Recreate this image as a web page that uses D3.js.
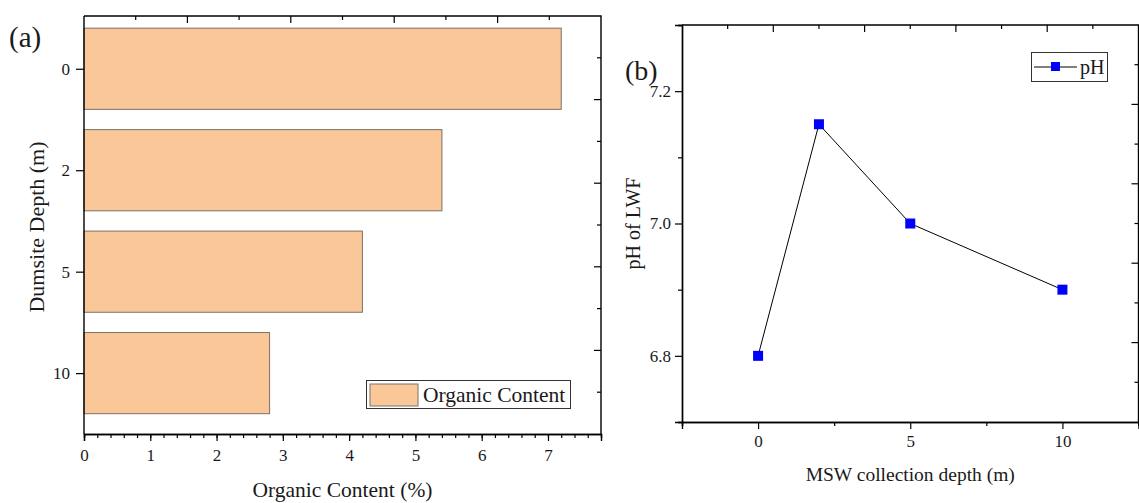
<!DOCTYPE html>
<html><head><meta charset="utf-8">
<script src="https://cdn.jsdelivr.net/npm/d3@7"></script>
<style>
body{margin:0;background:#fff}
svg{display:block}
svg text{font-family:"Liberation Serif","Times New Roman",serif !important;fill:#1a1a1a}
</style>
</head><body>
<svg id="c" width="1139" height="503"></svg>
<script>
// ---------- data ----------
const depthCategories = ["0", "2", "5", "10"];
const organicContent = [7.2, 5.4, 4.2, 2.8];
const organicTicks = [0, 1, 2, 3, 4, 5, 6, 7];
const phDepths = [0, 2, 5, 10];
const phValues = [6.8, 7.15, 7.0, 6.9];
const phYTicks = [6.8, 7.0, 7.2];
const phYMinorTicks = [6.7, 6.9, 7.1, 7.3];
const phXTicks = [0, 5, 10];
const phXMinorTicks = [-2.5, 2.5, 7.5, 12.5];
const mirrorTicks = [1, 2, 3, 4, 5, 6, 7, 8, 9]; // tenths of frame

const svg = d3.select("#c");
const barFill = "#FAC898";
const barStroke = "#7d7064";
const serif = '"Liberation Serif","Times New Roman",serif';

function styleAxis(g, w) {
  g.attr("font-family", null).attr("font-size", null);
  g.selectAll(".domain").attr("stroke", "#000").attr("stroke-width", w || 1.4);
  g.selectAll(".tick line").attr("stroke", "#000").attr("stroke-width", 1.2);
  g.selectAll("text").style("font-family", serif).style("font-size", "17px").attr("fill", "#1a1a1a");
}

// ================= Panel (a) =================
const A = {l: 84, r: 601, t: 16, b: 434};
const xA = d3.scaleLinear().domain([0, 7.8]).range([A.l, A.r]);
const yA = d3.scaleLinear().domain([-0.52, 3.6]).range([A.t, A.b]);
const mA_x = d3.scaleLinear().domain([0, 10]).range([A.l, A.r]);
const mA_y = d3.scaleLinear().domain([0, 10]).range([A.t, A.b]);

// bars
svg.append("g").selectAll("rect").data(organicContent).join("rect")
  .attr("x", xA(0))
  .attr("y", (d, i) => yA(i - 0.4))
  .attr("width", d => xA(d) - xA(0))
  .attr("height", (d, i) => yA(i + 0.4) - yA(i - 0.4))
  .attr("fill", barFill).attr("stroke", barStroke).attr("stroke-width", 1);

// bottom axis minor
const gAxm = svg.append("g").attr("transform", `translate(0,${A.b})`)
  .call(d3.axisBottom(xA).tickValues(d3.range(0, 39).map(k => k * 0.2)).tickSize(4).tickFormat(""));
styleAxis(gAxm);
const gAx = svg.append("g").attr("transform", `translate(0,${A.b})`)
  .call(d3.axisBottom(xA).tickValues(organicTicks).tickSize(7).tickPadding(8).tickFormat(d3.format("d")));
styleAxis(gAx);

// left axis
const gAy = svg.append("g").attr("transform", `translate(${A.l},0)`)
  .call(d3.axisLeft(yA).tickValues([0, 1, 2, 3]).tickFormat(i => depthCategories[i]).tickSize(8).tickPadding(6));
styleAxis(gAy);
gAy.select(".domain").attr("d", `M0,${A.t}V${A.b}`);

// top mirror axis (ticks inward)
svg.append("g").selectAll("line").data(mirrorTicks).join("line")
  .attr("x1", d => mA_x(d)).attr("x2", d => mA_x(d))
  .attr("y1", A.t).attr("y2", d => A.t + (d % 2 === 0 ? 7 : 4))
  .attr("stroke", "#000").attr("stroke-width", 1.2);
// right mirror axis
svg.append("g").selectAll("line").data(mirrorTicks).join("line")
  .attr("y1", d => mA_y(d)).attr("y2", d => mA_y(d))
  .attr("x1", A.r).attr("x2", d => A.r - (d % 2 === 0 ? 7 : 4))
  .attr("stroke", "#000").attr("stroke-width", 1.2);
svg.append("path").attr("d", `M${A.l},${A.t}H${A.r}V${A.b}`)
  .attr("fill", "none").attr("stroke", "#000").attr("stroke-width", 1.4);

// titles
svg.append("text").attr("x", (A.l + A.r) / 2).attr("y", 497).attr("text-anchor", "middle")
  .attr("font-size", 21.5).text("Organic Content (%)");
svg.append("text").attr("transform", `translate(44,${(A.t + A.b) / 2 + 2}) rotate(-90)`)
  .attr("text-anchor", "middle").attr("font-size", 22).text("Dumsite Depth (m)");
svg.append("text").attr("x", 9).attr("y", 47).attr("font-size", 29).text("(a)");

// legend (a)
const legA = svg.append("g");
legA.append("rect").attr("x", 366.5).attr("y", 380.5).attr("width", 204).attr("height", 28)
  .attr("fill", "#fff").attr("stroke", "#333").attr("stroke-width", 1);
legA.append("rect").attr("x", 370).attr("y", 384).attr("width", 48).attr("height", 22)
  .attr("fill", barFill).attr("stroke", barStroke).attr("stroke-width", 1);
legA.append("text").attr("x", 423).attr("y", 402).attr("font-size", 21.5).text("Organic Content");

// ================= Panel (b) =================
const B = {l: 682, r: 1138.5, t: 25, b: 422};
const xB = d3.scaleLinear().domain([-2.5, 12.5]).range([B.l, B.r]);
const yB = d3.scaleLinear().domain([6.7, 7.3]).range([B.b, B.t]);
const mB_x = d3.scaleLinear().domain([0, 10]).range([B.l, B.r]);
const mB_y = d3.scaleLinear().domain([0, 10]).range([B.t, B.b]);

const gBxm = svg.append("g").attr("transform", `translate(0,${B.b})`)
  .call(d3.axisBottom(xB).tickValues(phXMinorTicks).tickSize(4).tickFormat(""));
styleAxis(gBxm);
const gBx = svg.append("g").attr("transform", `translate(0,${B.b})`)
  .call(d3.axisBottom(xB).tickValues(phXTicks).tickSize(7).tickPadding(6).tickFormat(d3.format("d")));
styleAxis(gBx);

const gBym = svg.append("g").attr("transform", `translate(${B.l},0)`)
  .call(d3.axisLeft(yB).tickValues(phYMinorTicks).tickSize(4).tickFormat(""));
styleAxis(gBym);
const gBy = svg.append("g").attr("transform", `translate(${B.l},0)`)
  .call(d3.axisLeft(yB).tickValues(phYTicks).tickSize(7).tickPadding(4).tickFormat(d3.format(".1f")));
styleAxis(gBy);

svg.append("g").selectAll("line").data(mirrorTicks).join("line")
  .attr("x1", d => mB_x(d)).attr("x2", d => mB_x(d))
  .attr("y1", B.t).attr("y2", d => B.t + (d % 2 === 0 ? 7 : 4))
  .attr("stroke", "#000").attr("stroke-width", 1.2);
svg.append("g").selectAll("line").data(mirrorTicks).join("line")
  .attr("y1", d => mB_y(d)).attr("y2", d => mB_y(d))
  .attr("x1", B.r).attr("x2", d => B.r - (d % 2 === 0 ? 7 : 4))
  .attr("stroke", "#000").attr("stroke-width", 1.2);
svg.append("path").attr("d", `M${B.l},${B.t}H${B.r}V${B.b}`)
  .attr("fill", "none").attr("stroke", "#000").attr("stroke-width", 1.4);

// line + markers
const pts = phDepths.map((d, i) => [d, phValues[i]]);
svg.append("path").datum(pts)
  .attr("d", d3.line().x(d => xB(d[0])).y(d => yB(d[1])))
  .attr("fill", "none").attr("stroke", "#000").attr("stroke-width", 1);
svg.append("g").selectAll("rect").data(pts).join("rect")
  .attr("x", d => xB(d[0]) - 5).attr("y", d => yB(d[1]) - 5)
  .attr("width", 10).attr("height", 10).attr("fill", "#0000FF");

// titles
svg.append("text").attr("x", (B.l + B.r) / 2).attr("y", 481).attr("text-anchor", "middle")
  .attr("font-size", 19.5).text("MSW collection depth (m)");
svg.append("text").attr("transform", `translate(640,${(B.t + B.b) / 2}) rotate(-90)`)
  .attr("text-anchor", "middle").attr("font-size", 20).text("pH of LWF");
svg.append("text").attr("x", 625).attr("y", 80).attr("font-size", 28).text("(b)");

// legend (b)
const legB = svg.append("g");
legB.append("rect").attr("x", 1031.5).attr("y", 52.5).attr("width", 76).attr("height", 29)
  .attr("fill", "#fff").attr("stroke", "#333").attr("stroke-width", 1);
legB.append("line").attr("x1", 1034).attr("x2", 1077).attr("y1", 67).attr("y2", 67)
  .attr("stroke", "#000").attr("stroke-width", 1);
legB.append("rect").attr("x", 1051).attr("y", 62).attr("width", 9).attr("height", 9).attr("fill", "#0000FF");
legB.append("text").attr("x", 1080).attr("y", 74).attr("font-size", 20).text("pH");
</script>
</body></html>
